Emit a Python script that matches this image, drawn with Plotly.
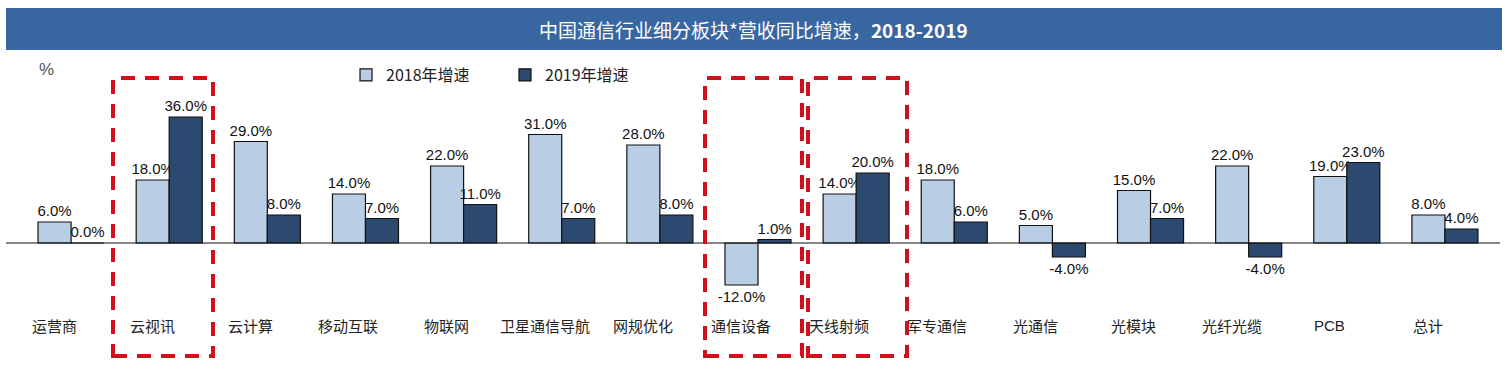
import plotly.graph_objects as go

W, H = 1509, 375

categories = ["运营商", "云视讯", "云计算", "移动互联", "物联网", "卫星通信导航", "网规优化",
              "通信设备", "天线射频", "军专通信", "光通信", "光模块", "光纤光缆", "PCB", "总计"]
growth_2018 = [6, 18, 29, 14, 22, 31, 28, -12, 14, 18, 5, 15, 22, 19, 8]
growth_2019 = [0, 36, 8, 7, 11, 7, 8, 1, 20, 6, -4, 7, -4, 23, 4]
series_names = ["2018年增速", "2019年增速"]
title_text = "中国通信行业细分板块*营收同比增速，<b>2018-2019</b>"

LIGHT = "#B9CDE5"
DARK = "#2C4A70"
CJK = "Noto Sans CJK SC"
LAT = "Liberation Sans, Arial"

def px_x(p):
    return p / W

def px_y(p):
    return 1 - p / H

fig = go.Figure()
for name, vals, col in [(series_names[0], growth_2018, LIGHT), (series_names[1], growth_2019, DARK)]:
    fig.add_trace(go.Bar(
        x=categories, y=vals, name=name,
        marker=dict(color=col, line=dict(color="#111111", width=1.2)),
        text=[f"{v:.1f}%" for v in vals],
        textposition="outside",
        textfont=dict(family=LAT, size=15, color="#111111"),
        constraintext="none",
        cliponaxis=False,
        hoverinfo="skip",
    ))

# plot area geometry (pixels)
x0p, x1p = 22, 1494
ytop, ybot = 60, 300
zero_y = 243
ppu = (zero_y - 117) / 36.0
yr = [-(ybot - zero_y) / ppu, (zero_y - ytop) / ppu]

shapes = []
# title bar
shapes.append(dict(type="rect", xref="paper", yref="paper",
                   x0=px_x(6), x1=px_x(1502), y0=px_y(50), y1=px_y(8),
                   fillcolor="#3866A1", line=dict(width=0), layer="below"))
# zero baseline
shapes.append(dict(type="line", xref="paper", yref="y", x0=px_x(6), x1=px_x(1500),
                   y0=0, y1=0, line=dict(color="#111111", width=1.2)))
# red dashed highlight boxes
box_px = [(113, 213), (705, 802), (808, 907)]
for (a, b) in box_px:
    shapes.append(dict(type="rect", xref="paper", yref="paper",
                       x0=px_x(a), x1=px_x(b), y0=px_y(356), y1=px_y(78),
                       line=dict(color="#D0101A", width=4, dash="14px,10px"),
                       fillcolor="rgba(0,0,0,0)"))

annotations = [
    dict(text=title_text, xref="paper", yref="paper", x=px_x(753), y=px_y(29),
         showarrow=False, font=dict(family=CJK, size=19, color="white"),
         xanchor="center", yanchor="middle"),
    dict(text="%", xref="paper", yref="paper", x=px_x(46), y=px_y(70),
         showarrow=False, font=dict(family=LAT, size=17, color="#555555"),
         xanchor="center", yanchor="middle"),
]
for c in categories:
    annotations.append(dict(text=c, x=c, xref="x", yref="paper", y=px_y(325),
                            xshift=-17, showarrow=False,
                            font=dict(family=CJK if c != "PCB" else LAT, size=15, color="#222222"),
                            xanchor="center", yanchor="middle"))

fig.update_layout(
    width=W, height=H,
    margin=dict(l=0, r=0, t=0, b=0),
    paper_bgcolor="white", plot_bgcolor="white",
    barmode="group", bargap=0.327, bargroupgap=0,
    xaxis=dict(domain=[px_x(x0p), px_x(x1p)], showticklabels=False, showgrid=False,
               zeroline=False, showline=False, ticks="", range=[-0.5, len(categories) - 0.5]),
    yaxis=dict(domain=[px_y(ybot), px_y(ytop)], range=yr, visible=False, showgrid=False, zeroline=False),
    showlegend=True,
    legend=dict(orientation="h", x=px_x(346), y=px_y(75), xanchor="left", yanchor="middle",
                font=dict(family=CJK, size=16, color="#222222"),
                entrywidth=114, entrywidthmode="pixels", bgcolor="rgba(0,0,0,0)"),
    shapes=shapes, annotations=annotations,
)

fig.write_html("out.html", config={"displayModeBar": False},
               post_script="document.body.style.margin='0';document.body.style.overflow='hidden';")
